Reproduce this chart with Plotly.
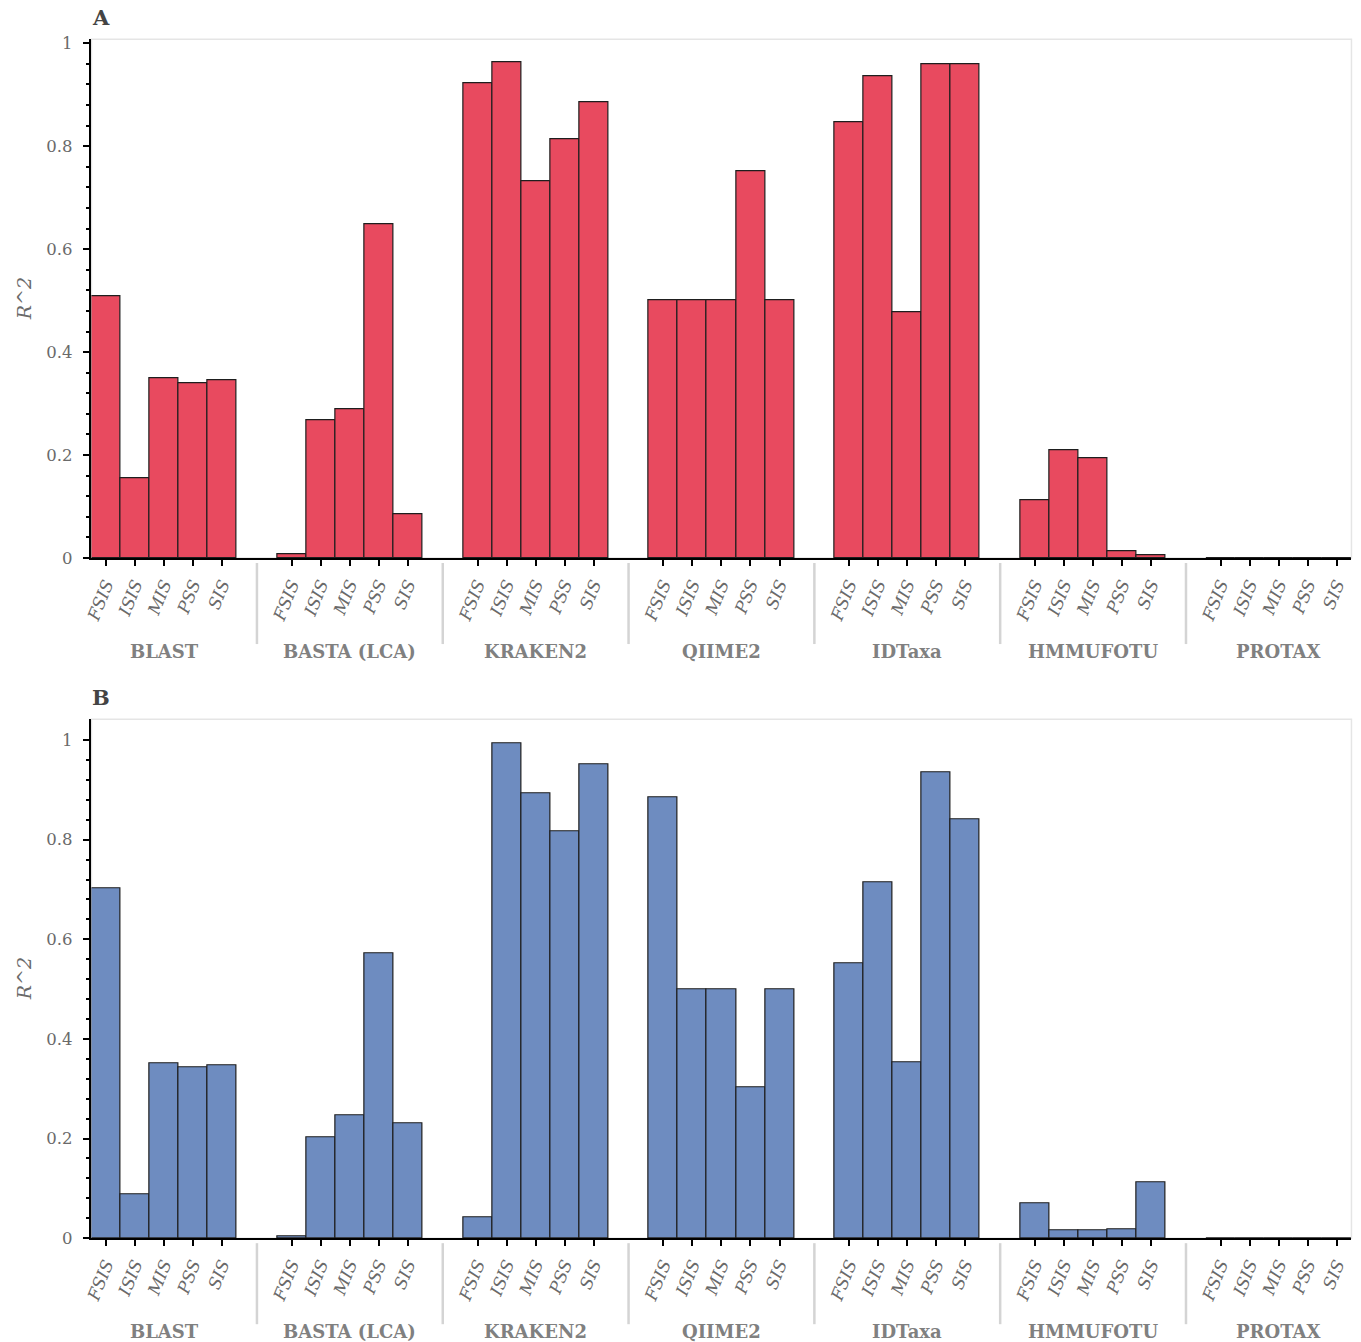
import plotly.graph_objects as go

tools = ["BLAST", "BASTA (LCA)", "KRAKEN2", "QIIME2", "IDTaxa", "HMMUFOTU", "PROTAX"]
metrics = ["FSIS", "ISIS", "MIS", "PSS", "SIS"]

r2_a = [
    [0.509, 0.156, 0.349, 0.339, 0.345],
    [0.008, 0.267, 0.290, 0.649, 0.086],
    [0.922, 0.963, 0.733, 0.813, 0.885],
    [0.500, 0.500, 0.500, 0.752, 0.500],
    [0.846, 0.936, 0.478, 0.959, 0.959],
    [0.113, 0.209, 0.193, 0.014, 0.006],
    [0.0, 0.0, 0.0, 0.0, 0.0],
]
r2_b = [
    [0.702, 0.088, 0.350, 0.342, 0.346],
    [0.004, 0.203, 0.247, 0.571, 0.231],
    [0.042, 0.994, 0.893, 0.817, 0.952],
    [0.885, 0.500, 0.500, 0.302, 0.500],
    [0.551, 0.714, 0.352, 0.936, 0.841],
    [0.070, 0.016, 0.016, 0.018, 0.113],
    [0.0, 0.0, 0.0, 0.0, 0.0],
]

W, H = 1361, 1342
GP = 1.4
span = len(tools) * len(metrics) + (len(tools) - 1) * GP

# observed page rendering offset/scale compensation
SX, OX = 0.9957, 6.4
SY, OY = 0.9886, 5.1


def px(x):
    return ((x - OX) / SX) / W


def py(y):
    return 1 - ((y - OY) / SY) / H


xs, labels = [], []
for g, t in enumerate(tools):
    for i, m in enumerate(metrics):
        xs.append(g * (len(metrics) + GP) + i + 0.5)
        labels.append(m)

FONT = "DejaVu Serif"
panels = [
    ("A", r2_a, "#e84a5f", (39.3, 558), 1.008, "x", "y"),
    ("B", r2_b, "#6e8cc0", (719.3, 1238), 1.0416, "x2", "y2"),
]

fig = go.Figure()
layout = dict(width=W, height=H, margin=dict(l=0, r=0, t=0, b=0),
              plot_bgcolor="white", paper_bgcolor="white", showlegend=False,
              bargap=0, font=dict(family=FONT))
shapes, annotations = [], []
minor_vals = [round(k * 0.04, 2) for k in range(1, 26) if k % 5 != 0]

for idx, (letter, vals, color, (ytop, ybot), ymax, xa, ya) in enumerate(panels):
    yv = [v for row in vals for v in row]
    fig.add_trace(go.Bar(x=xs, y=yv, width=1, marker=dict(color=color, line=dict(color="#1e1e1e", width=1.2)),
                         xaxis=xa, yaxis=ya, hoverinfo="skip"))
    dom = [py(ybot), py(ytop)]
    sfx = "" if idx == 0 else "2"
    layout["xaxis" + sfx] = dict(domain=[px(90), px(1352)], range=[0, span], anchor=ya,
                                 tickmode="array", tickvals=xs, ticktext=labels, tickangle=-68,
                                 tickfont=dict(family=FONT, size=17, color="#6a6a6a", style="italic"),
                                 ticks="outside", ticklen=6, tickwidth=1.5, tickcolor="black",
                                 ticklabelstandoff=2,
                                 showline=True, linecolor="black", linewidth=1.5,
                                 showgrid=False, zeroline=False, fixedrange=True)
    layout["yaxis" + sfx] = dict(domain=dom, range=[0, ymax], anchor=xa,
                                 tickmode="array", tickvals=[0, 0.2, 0.4, 0.6, 0.8, 1],
                                 ticktext=["0", "0.2", "0.4", "0.6", "0.8", "1"],
                                 tickfont=dict(family=FONT, size=16.5, color="#6a6a6a"),
                                 ticks="outside", ticklen=7, tickwidth=1.5, tickcolor="black",
                                 ticklabelstandoff=7,
                                 minor=dict(tickmode="array", tickvals=minor_vals, ticks="outside",
                                            ticklen=4, tickwidth=1.5, tickcolor="black"),
                                 showline=True, linecolor="black", linewidth=1.5,
                                 showgrid=False, zeroline=False, fixedrange=True)
    # y-axis title
    annotations.append(dict(text="R^2", xref="paper", yref="paper", x=px(22),
                            y=py((ytop + ybot) / 2), textangle=-90, showarrow=False,
                            xanchor="center", yanchor="middle",
                            font=dict(family=FONT, size=19, color="#6a6a6a", style="italic")))
    # frame (outline)
    shapes.append(dict(type="rect", xref=xa + " domain", yref=ya + " domain", x0=0, x1=1, y0=0, y1=1,
                       line=dict(color="#e5e5e5", width=1.5), layer="below"))
    # group separators
    for g in range(len(tools) - 1):
        xsep = g * (len(metrics) + GP) + len(metrics) + GP / 2
        shapes.append(dict(type="line", xref=xa, yref="paper", x0=xsep, x1=xsep,
                           y0=py(ybot + 5), y1=py(ybot + 86),
                           line=dict(color="#d4d4d4", width=2.5)))
    # group labels
    for g, t in enumerate(tools):
        xc = g * (len(metrics) + GP) + 2.5
        annotations.append(dict(text="<b>%s</b>" % t, xref=xa, yref="paper", x=xc, y=py(ybot + 93),
                                showarrow=False, font=dict(family=FONT, size=18, color="#808080"),
                                xanchor="center", yanchor="middle"))
    annotations.append(dict(text="<b>%s</b>" % letter, xref="paper", yref="paper", x=px(89),
                            y=py(ytop - 22), showarrow=False, xanchor="left", yanchor="middle",
                            font=dict(family=FONT, size=21, color="#444")))

layout["shapes"] = shapes
layout["annotations"] = annotations
fig.update_layout(**layout)
fig.write_html("out.html", config={"displayModeBar": False},
               post_script="document.body.style.margin='0';document.body.style.overflow='hidden';"
                           "document.documentElement.style.overflow='hidden';")
